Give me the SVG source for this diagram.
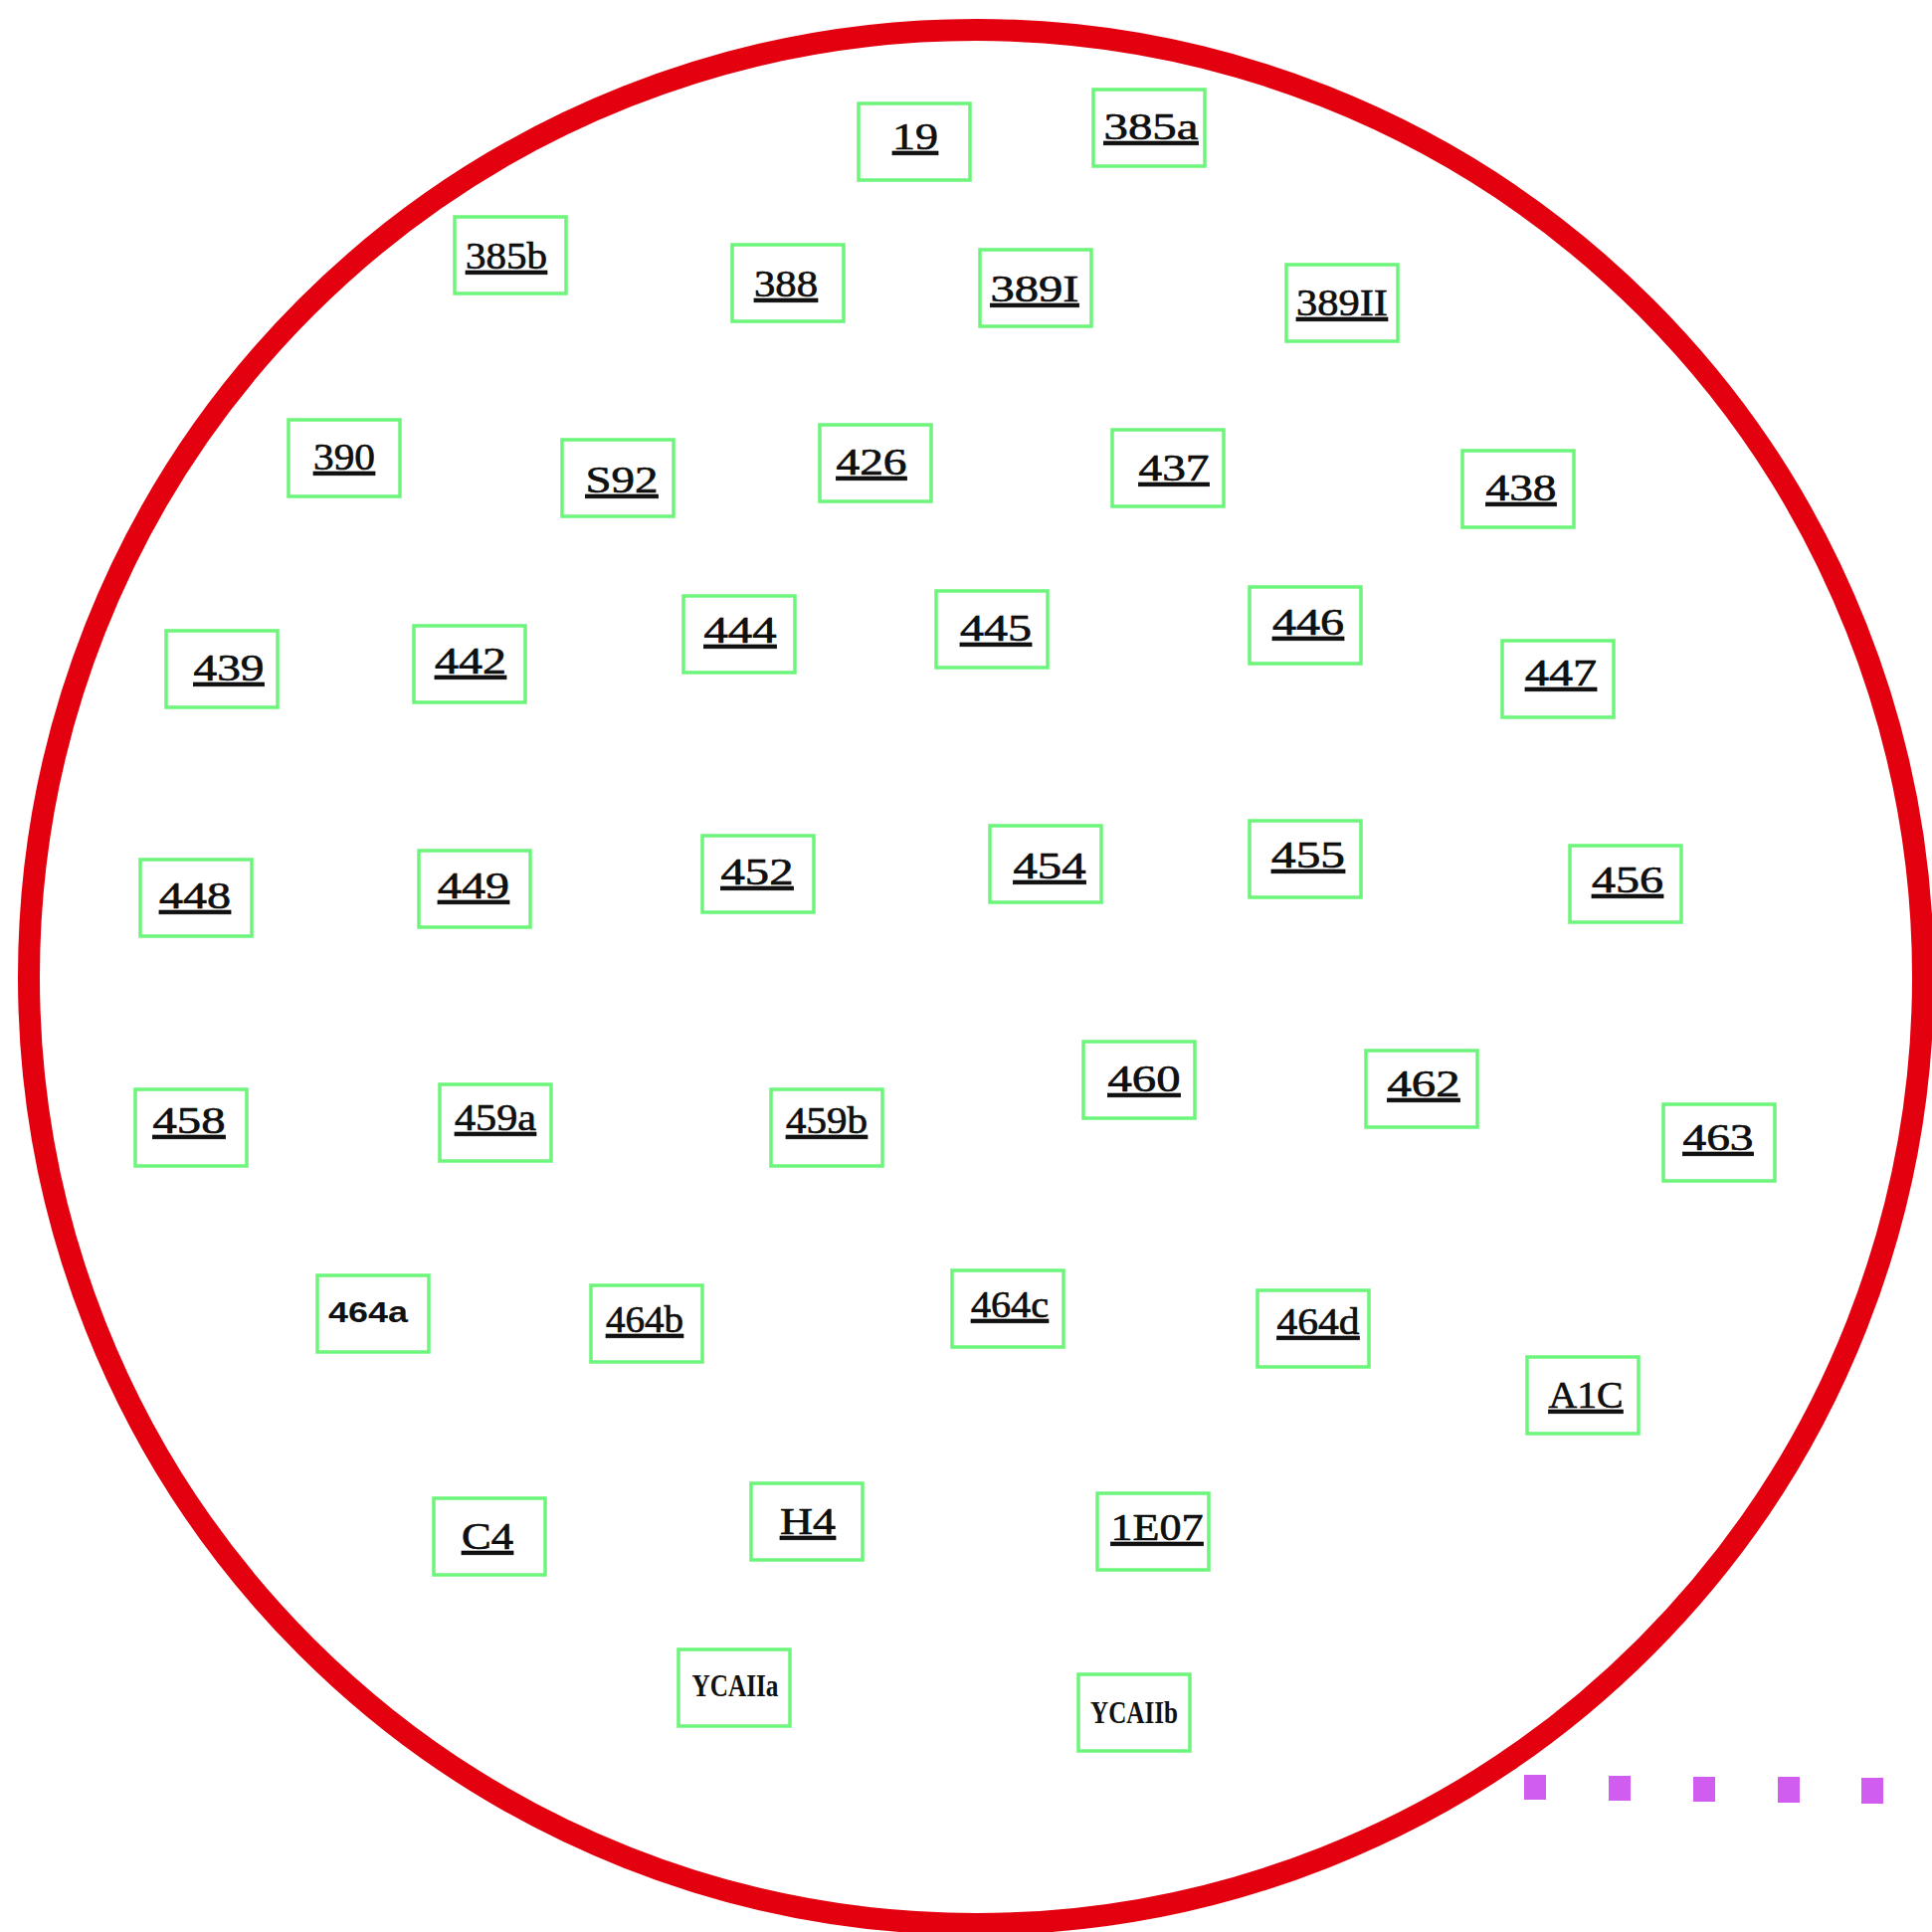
<svg xmlns="http://www.w3.org/2000/svg" width="1942" height="1942" viewBox="0 0 1942 1942">
<style>
.bx{fill:none;stroke:#6cf57a;stroke-width:3.5}
.t{font-family:"Liberation Serif","Times New Roman",serif;font-size:38px;text-anchor:middle;text-decoration:underline;fill:#111;stroke:#000;stroke-width:0.6}
.p{font-family:"Liberation Sans",Arial,sans-serif;font-weight:bold;font-size:30px;text-anchor:middle;fill:#111}
.y{font-family:"Liberation Serif","Times New Roman",serif;font-weight:bold;font-size:32px;text-anchor:middle;fill:#111}
.sq{fill:#d05cf0}
</style>
<rect width="1942" height="1942" fill="#fff"/>
<circle id="outline" cx="981" cy="982" r="952" fill="none" stroke="#e3000f" stroke-width="22"/>
<g id="connectors"></g>
<g id="n19"><rect class="bx" x="863" y="104" width="112" height="77"/><text class="t" x="920" y="150" textLength="46" lengthAdjust="spacingAndGlyphs">19</text></g>
<g id="n385a"><rect class="bx" x="1099" y="90" width="112" height="77"/><text class="t" x="1157" y="140" textLength="95" lengthAdjust="spacingAndGlyphs">385a</text></g>
<g id="n385b"><rect class="bx" x="457" y="218" width="112" height="77"/><text class="t" x="509" y="270" textLength="82" lengthAdjust="spacingAndGlyphs">385b</text></g>
<g id="n388"><rect class="bx" x="736" y="246" width="112" height="77"/><text class="t" x="790" y="298" textLength="64" lengthAdjust="spacingAndGlyphs">388</text></g>
<g id="n389I"><rect class="bx" x="985" y="251" width="112" height="77"/><text class="t" x="1040" y="303" textLength="89" lengthAdjust="spacingAndGlyphs">389I</text></g>
<g id="n389II"><rect class="bx" x="1293" y="266" width="112" height="77"/><text class="t" x="1349" y="317" textLength="92" lengthAdjust="spacingAndGlyphs">389II</text></g>
<g id="n390"><rect class="bx" x="290" y="422" width="112" height="77"/><text class="t" x="346" y="472" textLength="62" lengthAdjust="spacingAndGlyphs">390</text></g>
<g id="nS92"><rect class="bx" x="565" y="442" width="112" height="77"/><text class="t" x="625" y="495" textLength="73" lengthAdjust="spacingAndGlyphs">S92</text></g>
<g id="n426"><rect class="bx" x="824" y="427" width="112" height="77"/><text class="t" x="876" y="477" textLength="71" lengthAdjust="spacingAndGlyphs">426</text></g>
<g id="n437"><rect class="bx" x="1118" y="432" width="112" height="77"/><text class="t" x="1180" y="483" textLength="71" lengthAdjust="spacingAndGlyphs">437</text></g>
<g id="n438"><rect class="bx" x="1470" y="453" width="112" height="77"/><text class="t" x="1529" y="503" textLength="71" lengthAdjust="spacingAndGlyphs">438</text></g>
<g id="n439"><rect class="bx" x="167" y="634" width="112" height="77"/><text class="t" x="230" y="684" textLength="71" lengthAdjust="spacingAndGlyphs">439</text></g>
<g id="n442"><rect class="bx" x="416" y="629" width="112" height="77"/><text class="t" x="473" y="677" textLength="72" lengthAdjust="spacingAndGlyphs">442</text></g>
<g id="n444"><rect class="bx" x="687" y="599" width="112" height="77"/><text class="t" x="744" y="646" textLength="73" lengthAdjust="spacingAndGlyphs">444</text></g>
<g id="n445"><rect class="bx" x="941" y="594" width="112" height="77"/><text class="t" x="1001" y="644" textLength="72" lengthAdjust="spacingAndGlyphs">445</text></g>
<g id="n446"><rect class="bx" x="1256" y="590" width="112" height="77"/><text class="t" x="1315" y="638" textLength="72" lengthAdjust="spacingAndGlyphs">446</text></g>
<g id="n447"><rect class="bx" x="1510" y="644" width="112" height="77"/><text class="t" x="1569" y="689" textLength="72" lengthAdjust="spacingAndGlyphs">447</text></g>
<g id="n448"><rect class="bx" x="141" y="864" width="112" height="77"/><text class="t" x="196" y="913" textLength="72" lengthAdjust="spacingAndGlyphs">448</text></g>
<g id="n449"><rect class="bx" x="421" y="855" width="112" height="77"/><text class="t" x="476" y="903" textLength="72" lengthAdjust="spacingAndGlyphs">449</text></g>
<g id="n452"><rect class="bx" x="706" y="840" width="112" height="77"/><text class="t" x="761" y="889" textLength="73" lengthAdjust="spacingAndGlyphs">452</text></g>
<g id="n454"><rect class="bx" x="995" y="830" width="112" height="77"/><text class="t" x="1055" y="883" textLength="73" lengthAdjust="spacingAndGlyphs">454</text></g>
<g id="n455"><rect class="bx" x="1256" y="825" width="112" height="77"/><text class="t" x="1315" y="872" textLength="74" lengthAdjust="spacingAndGlyphs">455</text></g>
<g id="n456"><rect class="bx" x="1578" y="850" width="112" height="77"/><text class="t" x="1636" y="897" textLength="72" lengthAdjust="spacingAndGlyphs">456</text></g>
<g id="n458"><rect class="bx" x="136" y="1095" width="112" height="77"/><text class="t" x="190" y="1139" textLength="73" lengthAdjust="spacingAndGlyphs">458</text></g>
<g id="n459a"><rect class="bx" x="442" y="1090" width="112" height="77"/><text class="t" x="498" y="1136" textLength="82" lengthAdjust="spacingAndGlyphs">459a</text></g>
<g id="n459b"><rect class="bx" x="775" y="1095" width="112" height="77"/><text class="t" x="831" y="1139" textLength="82" lengthAdjust="spacingAndGlyphs">459b</text></g>
<g id="n460"><rect class="bx" x="1089" y="1047" width="112" height="77"/><text class="t" x="1150" y="1097" textLength="73" lengthAdjust="spacingAndGlyphs">460</text></g>
<g id="n462"><rect class="bx" x="1373" y="1056" width="112" height="77"/><text class="t" x="1431" y="1102" textLength="73" lengthAdjust="spacingAndGlyphs">462</text></g>
<g id="n463"><rect class="bx" x="1672" y="1110" width="112" height="77"/><text class="t" x="1727" y="1156" textLength="71" lengthAdjust="spacingAndGlyphs">463</text></g>
<g id="n464a"><rect class="bx" x="319" y="1282" width="112" height="77"/><text class="p" x="370" y="1329" textLength="80" lengthAdjust="spacingAndGlyphs">464a</text></g>
<g id="n464b"><rect class="bx" x="594" y="1292" width="112" height="77"/><text class="t" x="648" y="1339" textLength="78" lengthAdjust="spacingAndGlyphs">464b</text></g>
<g id="n464c"><rect class="bx" x="957" y="1277" width="112" height="77"/><text class="t" x="1015" y="1324" textLength="78" lengthAdjust="spacingAndGlyphs">464c</text></g>
<g id="n464d"><rect class="bx" x="1264" y="1297" width="112" height="77"/><text class="t" x="1325" y="1341" textLength="83" lengthAdjust="spacingAndGlyphs">464d</text></g>
<g id="nA1C"><rect class="bx" x="1535" y="1364" width="112" height="77"/><text class="t" x="1594" y="1415" textLength="75" lengthAdjust="spacingAndGlyphs">A1C</text></g>
<g id="nC4"><rect class="bx" x="436" y="1506" width="112" height="77"/><text class="t" x="490" y="1557" textLength="52" lengthAdjust="spacingAndGlyphs">C4</text></g>
<g id="nH4"><rect class="bx" x="755" y="1491" width="112" height="77"/><text class="t" x="812" y="1542" textLength="56" lengthAdjust="spacingAndGlyphs">H4</text></g>
<g id="n1E07"><rect class="bx" x="1103" y="1501" width="112" height="77"/><text class="t" x="1163" y="1548" textLength="93" lengthAdjust="spacingAndGlyphs">1E07</text></g>
<g id="nYCAIIa"><rect class="bx" x="682" y="1658" width="112" height="77"/><text class="y" x="739" y="1705" textLength="87" lengthAdjust="spacingAndGlyphs">YCAIIa</text></g>
<g id="nYCAIIb"><rect class="bx" x="1084" y="1683" width="112" height="77"/><text class="y" x="1140" y="1732" textLength="88" lengthAdjust="spacingAndGlyphs">YCAIIb</text></g>
<g id="legend">
<rect class="sq" x="1532" y="1784" width="22" height="25"/>
<rect class="sq" x="1617" y="1785" width="22" height="25"/>
<rect class="sq" x="1702" y="1786" width="22" height="25"/>
<rect class="sq" x="1787" y="1786" width="22" height="26"/>
<rect class="sq" x="1871" y="1787" width="22" height="26"/>
</g>
</svg>
